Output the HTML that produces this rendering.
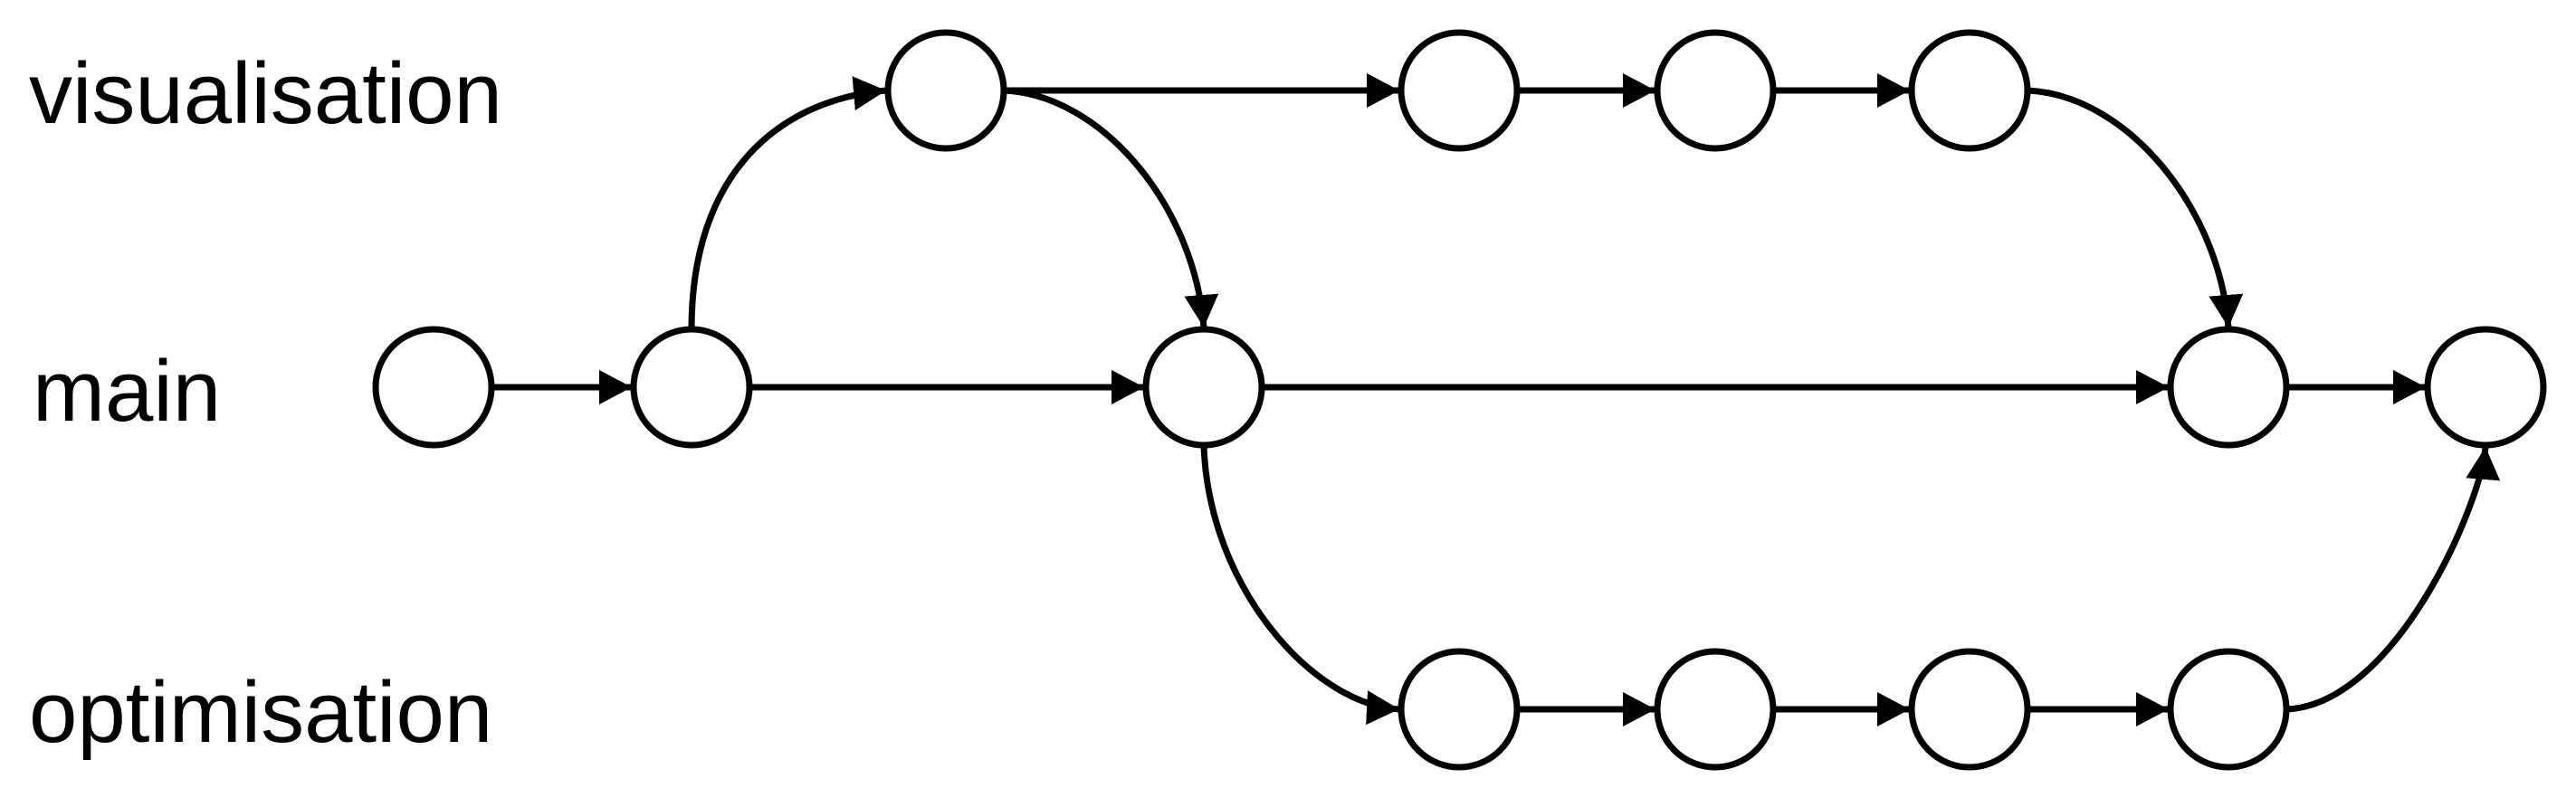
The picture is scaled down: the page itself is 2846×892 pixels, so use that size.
<!DOCTYPE html>
<html><head><meta charset="utf-8"><style>
html,body{margin:0;padding:0;background:#fff;}
svg{display:block;}
text{font-family:"Liberation Sans",Arial,sans-serif;font-size:96px;fill:#000;}
</style></head><body>
<svg id="g" width="2846" height="892" viewBox="0 0 2846 892" xmlns="http://www.w3.org/2000/svg">
<defs>
<marker id="arr" markerUnits="userSpaceOnUse" markerWidth="38" markerHeight="38" viewBox="0 0 38 38" refX="36" refY="19" orient="auto">
<path d="M0,0 L36,19 L0,38 Z" fill="#000"/>
</marker>
</defs>
<text x="32" y="136">visualisation</text>
<text x="36" y="465">main</text>
<text x="32" y="820">optimisation</text>
<g id="edges"></g>
<g id="nodes"></g>
</svg>
<script>
const nodeIds=['m0','m1','v0','m2','v1','v2','v3','m7','m8','o0','o1','o2','o3'];
const nodeCol=[479,764,1045,1330,1612,1895,2176,2462,2746,1612,1895,2176,2462];
const nodeRow=['main','main','vis','main','vis','vis','vis','main','main','opt','opt','opt','opt'];
const rowY={vis:100,main:428,opt:784};
const straightEdges=[['m0','m1'],['m1','m2'],['m2','m7'],['m7','m8'],['v0','v1'],['v1','v2'],['v2','v3'],['o0','o1'],['o1','o2'],['o2','o3']];
const curvedEdges=[['m1','v0','up'],['v0','m2','down'],['v3','m7','down'],['m2','o0','branch'],['o3','m8','merge']];
const R=64, NS='http://www.w3.org/2000/svg';
const pos={};
nodeIds.forEach((id,i)=>{pos[id]={x:nodeCol[i],y:rowY[nodeRow[i]]};});
const eg=document.getElementById('edges'), ng=document.getElementById('nodes');
function mkPath(d,name){
  const p=document.createElementNS(NS,'path');
  p.setAttribute('d',d);p.setAttribute('fill','none');p.setAttribute('stroke','#000');
  p.setAttribute('stroke-width','7');p.setAttribute('marker-end','url(#arr)');
  
  
  eg.appendChild(p);
}
straightEdges.forEach(([a,b])=>{
  const A=pos[a],B=pos[b];
  mkPath(`M${A.x+R},${A.y} L${B.x-R-2},${B.y}`,'edge-'+a+'-'+b);
});
curvedEdges.forEach(([a,b,k])=>{
  const A=pos[a],B=pos[b];let d;
  if(k==='up'){d=`M${A.x},${A.y-R} C${A.x},${A.y-240} ${A.x+100},${B.y+10} ${B.x-R-2},${B.y}`;}
  else if(k==='down'){const sx=A.x+R;d=`M${sx},${A.y} C${sx+110},${A.y+5} ${B.x-10},${A.y+130} ${B.x},${B.y-R-2}`;}
  else if(k==='branch'){d=`M${A.x},${A.y+R} C${A.x+5},${A.y+220} ${A.x+120},${B.y-5} ${B.x-R-2},${B.y}`;}
  else {const sx=A.x+R;d=`M${sx},${A.y} C${sx+120},${A.y-5} ${B.x-5},${B.y+130} ${B.x},${B.y+R+2}`;}
  mkPath(d,'edge-'+a+'-'+b);
});
nodeIds.forEach(id=>{
  const c=document.createElementNS(NS,'circle');
  c.setAttribute('cx',pos[id].x);c.setAttribute('cy',pos[id].y);c.setAttribute('r',R);
  c.setAttribute('fill','#fff');c.setAttribute('stroke','#000');c.setAttribute('stroke-width','7');
  
  
  ng.appendChild(c);
});
</script>
</body></html>
